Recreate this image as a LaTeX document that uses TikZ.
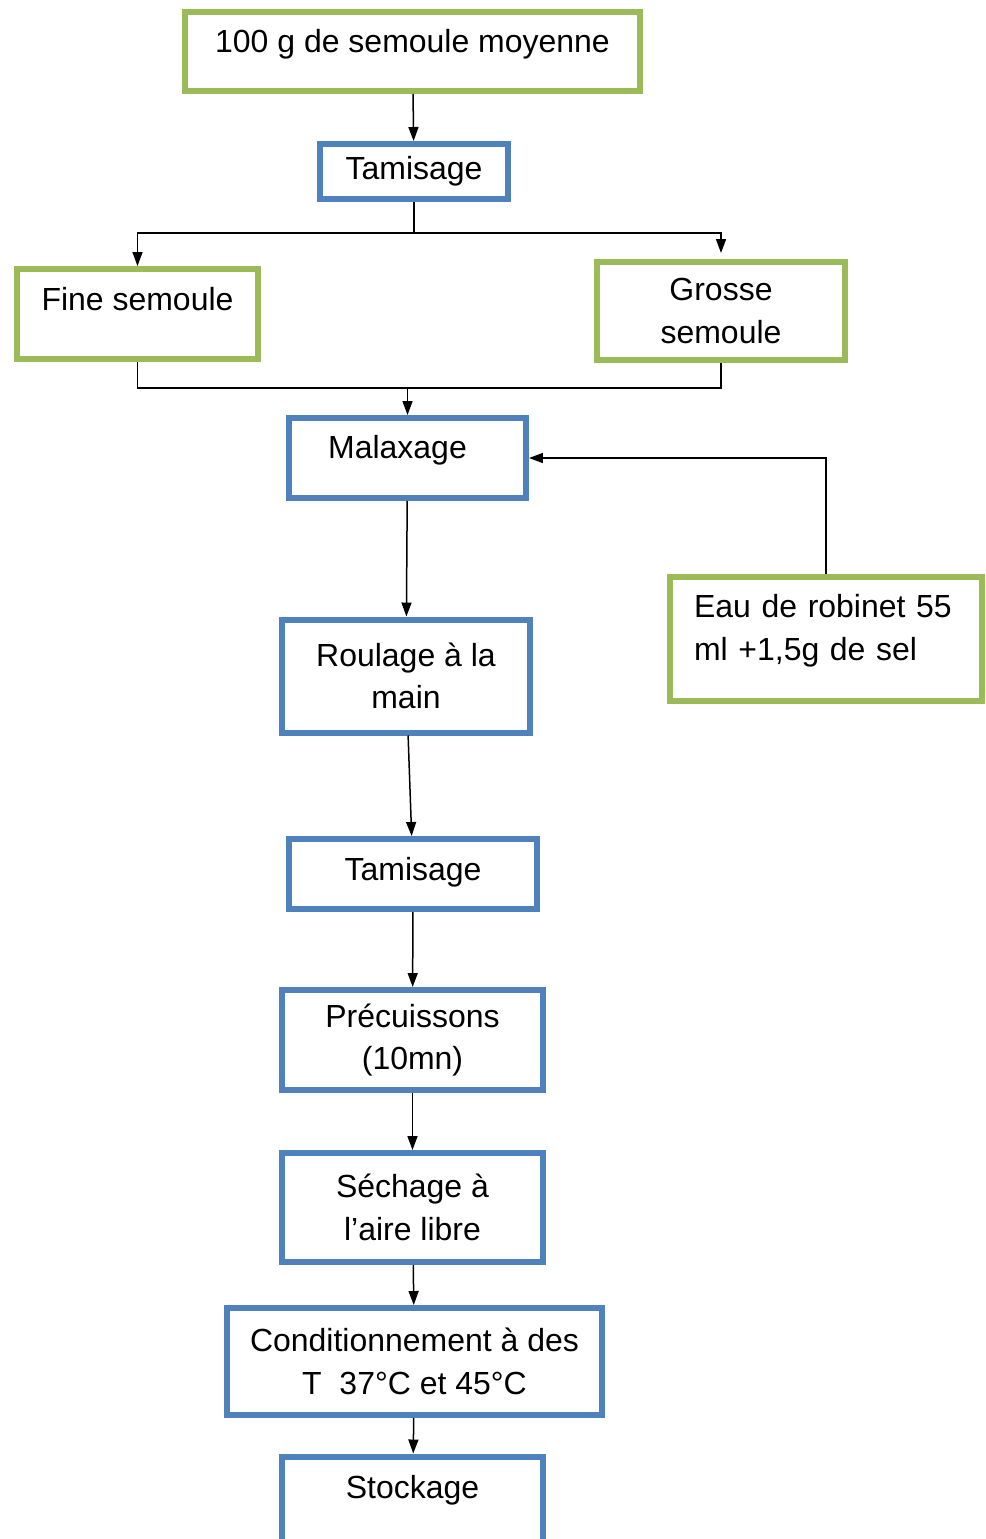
\documentclass[tikz,border=0pt]{standalone}
\usepackage{fontspec}
\setmainfont{Liberation Sans}
\usetikzlibrary{arrows.meta}
\definecolor{boxgreen}{RGB}{155,187,89}
\definecolor{boxblue}{RGB}{79,129,189}

\begin{document}
\begin{tikzpicture}[x=0.02cm, y=-0.02cm, every node/.style={font=\fontsize{18.2}{24.2}\selectfont}, >={Triangle[length=0.28cm,width=0.2cm]},
	ingr/.style={draw=boxgreen, line width=0.12cm, align=center, inner sep=0pt},
	etape/.style={draw=boxblue, line width=0.12cm, align=center, inner sep=0pt},
	fleche/.style={->, line width=0.03cm}]
	\useasboundingbox (0,0) rectangle (985,1539);
	\node[ingr, minimum width=9.1cm, minimum height=1.58cm, text height=13pt, text depth=12.2pt] (semoule) at (412.5,51.5) {100 g de semoule moyenne};
	\node[etape, minimum width=3.76cm, minimum height=1.1cm] (tamis1) at (414,171.5) {Tamisage};
	\node[ingr, minimum width=4.82cm, minimum height=1.8cm, text height=13pt, text depth=17.2pt] (fine) at (137.5,314) {Fine semoule};
	\node[ingr, minimum width=4.96cm, minimum height=1.96cm] (grosse) at (721,311) {Grosse\\semoule};
	\node[etape, minimum width=4.74cm, minimum height=1.6cm, text height=13pt, text depth=12.8pt] (malax) at (407.5,458) {Malaxage\hspace{0.4cm}};
	\node[ingr, minimum width=6.24cm, minimum height=2.48cm, text width=5.28cm, align=left] (eau) at (826,639) {Eau de robinet 55\\ml +1,5g de sel\\[-11pt]\mbox{}};
	\node[etape, minimum width=4.96cm, minimum height=2.26cm] (roul) at (406,676) {Roulage à la\\main};
	\node[etape, minimum width=4.96cm, minimum height=1.4cm, text height=13pt, text depth=5.8pt] (tamis2) at (413,874) {Tamisage};
	\node[etape, minimum width=5.22cm, minimum height=2cm] (precuit) at (412.5,1040) {Précuissons\\(10mn)};
	\node[etape, minimum width=5.22cm, minimum height=2.18cm] (sechage) at (412.5,1207.5) {Séchage à\\l’aire libre};
	\node[etape, minimum width=7.5cm, minimum height=2.14cm] (condit) at (414.5,1361.5) {Conditionnement à des\\T\ \ 37°C et 45°C};
	\node[etape, minimum width=5.22cm, minimum height=2.0cm, text height=13pt, text depth=22.4pt] (stock) at (412.5,1506.5) {Stockage};
	\coordinate (merge) at (407.5,388);
	\draw[fleche] (semoule) -- (tamis1);
	\draw[fleche] (tamis1.south) -- ++(0,31) coordinate (split) -| (fine.north);
	\draw[fleche, shorten >=0.12cm] (split) -| (grosse.north);
	\draw[line width=0.03cm] (fine.south) |- (merge) -| (grosse.south);
	\draw[fleche] (merge) -- (malax.north);
	\draw[fleche] (eau.north) |- (malax.east);
	\draw[fleche] (malax) -- (roul);
	\draw[fleche] (roul) -- (tamis2);
	\draw[fleche] (tamis2) -- (precuit);
	\draw[fleche] (precuit) -- (sechage);
	\draw[fleche] (sechage) -- (condit);
	\draw[fleche] (condit) -- (stock);
\end{tikzpicture}
\end{document}
